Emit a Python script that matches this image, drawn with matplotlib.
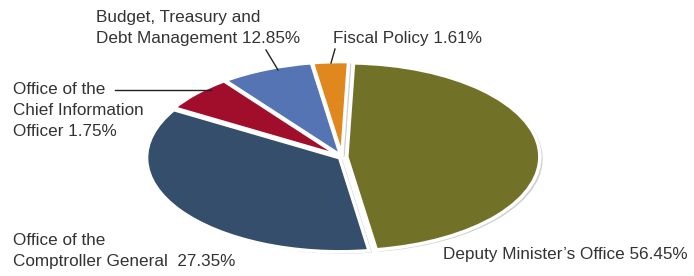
import matplotlib
matplotlib.use("Agg")
import matplotlib.pyplot as plt

plt.rcParams['font.family'] = ['Liberation Sans', 'DejaVu Sans']

W, H = 694, 276

# slice sizes as drawn in the picture (labels carry the published figures)
names = ["Deputy Minister's Office", "Office of the Comptroller General",
         "Office of the Chief Information Officer", "Budget, Treasury and Debt Management",
         "Fiscal Policy"]
sizes = [47.0, 36.0, 6.2, 7.8, 3.0]
colors = ["#727128", "#344e6b", "#a00e2b", "#5474b4", "#e0881e"]
explode = [0.025, 0.015, 0.015, 0.015, 0.015]

label_texts = ["Deputy Minister\u2019s Office 56.45%",
               "Office of the\nComptroller General  27.35%",
               "Office of the\nChief Information\nOfficer 1.75%",
               "Budget, Treasury and\nDebt Management 12.85%",
               "Fiscal Policy 1.61%"]

fig = plt.figure(figsize=(W / 100, H / 100), dpi=100)

# elliptical pie: axes stretched so that radius 1 = 193 px wide, 94 px high
cx, cy, rx, ry = 342, 157, 193, 94
span = 1.5
ax = fig.add_axes([(cx - rx * span) / W, (H - cy - ry * span) / H,
                   2 * rx * span / W, 2 * ry * span / H])

# soft gray shadow under the slices
ax.pie(sizes, startangle=88, counterclock=False, explode=explode,
       colors=["#cfcfcf"] * len(sizes), center=(0.015, -0.02),
       wedgeprops=dict(edgecolor="none"))
ax.pie(sizes, startangle=88, counterclock=False, explode=explode,
       colors=colors, wedgeprops=dict(edgecolor="white", linewidth=2.5))
ax.set_aspect('auto')
ax.set_xlim(-span, span)
ax.set_ylim(-span, span)
ax.axis('off')

# overlay for labels, in pixel coordinates
ov = fig.add_axes([0, 0, 1, 1])
ov.set_xlim(0, W)
ov.set_ylim(H, 0)
ov.axis('off')
ov.patch.set_alpha(0)

tc = "#333333"
fs = 12.3
ls = 1.5
ov.text(96, 10, label_texts[3], fontsize=fs, color=tc, va='top', ha='left', linespacing=ls)
ov.text(333, 31, label_texts[4], fontsize=fs, color=tc, va='top', ha='left')
ov.text(13, 82, label_texts[2], fontsize=fs, color=tc, va='top', ha='left', linespacing=ls)
ov.text(13, 233, label_texts[1], fontsize=fs, color=tc, va='top', ha='left', linespacing=ls)
ov.text(443, 247, label_texts[0], fontsize=fs, color=tc, va='top', ha='left')

lc = "#222222"
ov.plot([266, 278], [50, 70], color=lc, lw=1)
ov.plot([335, 331], [49, 63], color=lc, lw=1)
ov.plot([115, 211], [90, 90], color=lc, lw=1)

fig.savefig("out.png", dpi=100)
